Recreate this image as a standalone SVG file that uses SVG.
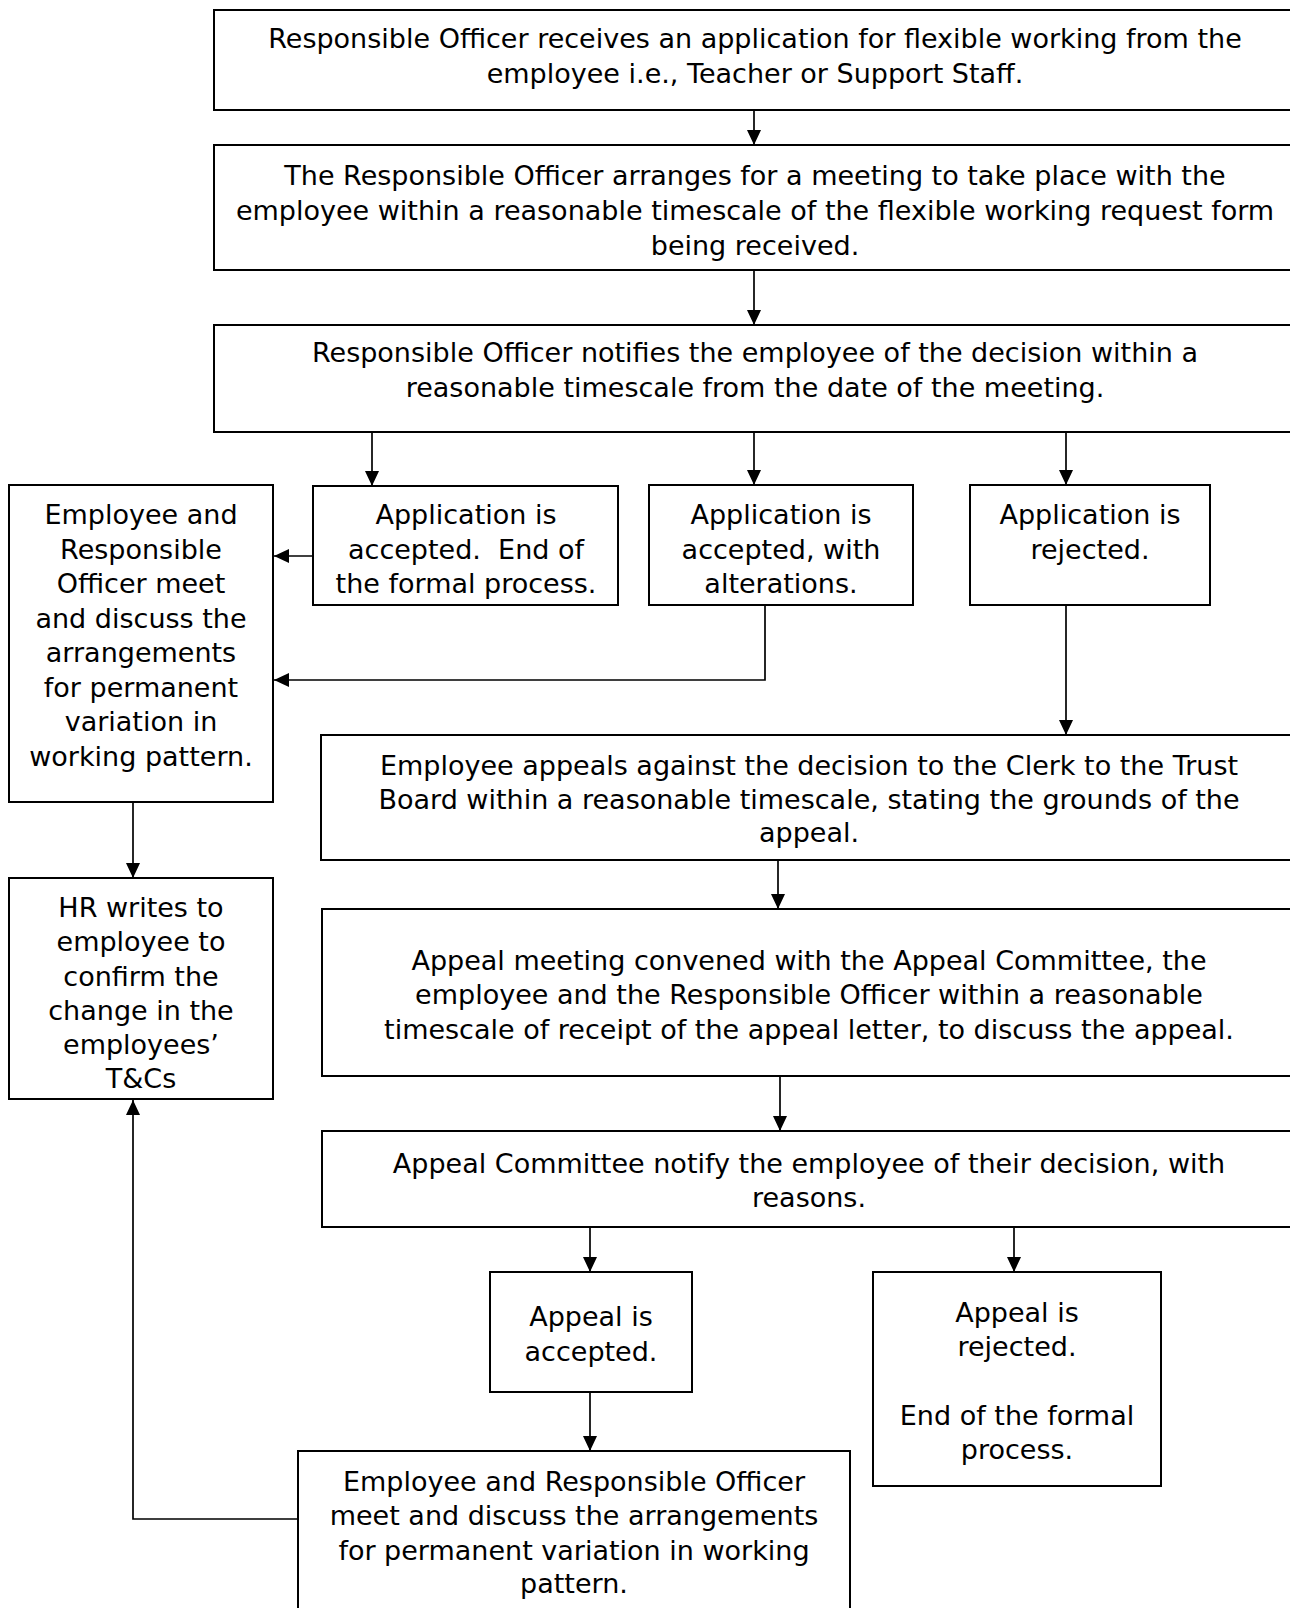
<svg xmlns="http://www.w3.org/2000/svg" width="1290" height="1608" viewBox="0 0 1290 1608">
<style>
.box{fill:#fff;stroke:#000;stroke-width:2}
.t{font-family:"DejaVu Sans","Liberation Sans",sans-serif;font-size:27px;fill:#000;text-anchor:middle}
.c{fill:none;stroke:#000;stroke-width:1.7}
</style>
<defs>
<marker id="ah" viewBox="0 0 15 14" refX="15" refY="7" markerWidth="15" markerHeight="14" markerUnits="userSpaceOnUse" orient="auto">
<path d="M0,0 L15,7 L0,14 Z" fill="#000"/>
</marker>
</defs>
<rect width="1290" height="1608" fill="#fff"/>
<g id="connectors">
<line class="c" x1="754" y1="110" x2="754" y2="145" marker-end="url(#ah)"/>
<line class="c" x1="754" y1="270" x2="754" y2="325" marker-end="url(#ah)"/>
<line class="c" x1="372" y1="432" x2="372" y2="486" marker-end="url(#ah)"/>
<line class="c" x1="754" y1="432" x2="754" y2="485" marker-end="url(#ah)"/>
<line class="c" x1="1066" y1="432" x2="1066" y2="485" marker-end="url(#ah)"/>
<line class="c" x1="313" y1="556" x2="274" y2="556" marker-end="url(#ah)"/>
<polyline class="c" points="765,605 765,680 274,680" marker-end="url(#ah)"/>
<line class="c" x1="1066" y1="605" x2="1066" y2="735" marker-end="url(#ah)"/>
<line class="c" x1="133" y1="802" x2="133" y2="878" marker-end="url(#ah)"/>
<line class="c" x1="778" y1="860" x2="778" y2="909" marker-end="url(#ah)"/>
<line class="c" x1="780" y1="1076" x2="780" y2="1131" marker-end="url(#ah)"/>
<line class="c" x1="590" y1="1227" x2="590" y2="1272" marker-end="url(#ah)"/>
<line class="c" x1="1014" y1="1227" x2="1014" y2="1272" marker-end="url(#ah)"/>
<line class="c" x1="590" y1="1392" x2="590" y2="1451" marker-end="url(#ah)"/>
<polyline class="c" points="298,1519 133,1519 133,1100" marker-end="url(#ah)"/>
</g>
<g id="n1">
<rect class="box" x="214" y="10" width="1090" height="100"/>
<text class="t" x="755" y="47.5">Responsible Officer receives an application for flexible working from the</text>
<text class="t" x="755" y="82.5">employee i.e., Teacher or Support Staff.</text>
</g>
<g id="n2">
<rect class="box" x="214" y="145" width="1090" height="125"/>
<text class="t" x="755" y="184.5">The Responsible Officer arranges for a meeting to take place with the</text>
<text class="t" x="755" y="219.5">employee within a reasonable timescale of the flexible working request form</text>
<text class="t" x="755" y="254.5">being received.</text>
</g>
<g id="n3">
<rect class="box" x="214" y="325" width="1090" height="107"/>
<text class="t" x="755" y="362">Responsible Officer notifies the employee of the decision within a</text>
<text class="t" x="755" y="397">reasonable timescale from the date of the meeting.</text>
</g>
<g id="n4">
<rect class="box" x="9" y="485" width="264" height="317"/>
<text class="t" x="141" y="524">Employee and</text>
<text class="t" x="141" y="558.5">Responsible</text>
<text class="t" x="141" y="593">Officer meet</text>
<text class="t" x="141" y="627.5">and discuss the</text>
<text class="t" x="141" y="662">arrangements</text>
<text class="t" x="141" y="696.5">for permanent</text>
<text class="t" x="141" y="731">variation in</text>
<text class="t" x="141" y="765.5">working pattern.</text>
</g>
<g id="n5">
<rect class="box" x="313" y="486" width="305" height="119"/>
<text class="t" x="466" y="524">Application is</text>
<text class="t" x="466" y="558.5">accepted.&#160; End of</text>
<text class="t" x="466" y="593">the formal process.</text>
</g>
<g id="n6">
<rect class="box" x="649" y="485" width="264" height="120"/>
<text class="t" x="781" y="524">Application is</text>
<text class="t" x="781" y="558.5">accepted, with</text>
<text class="t" x="781" y="593">alterations.</text>
</g>
<g id="n7">
<rect class="box" x="970" y="485" width="240" height="120"/>
<text class="t" x="1090" y="524">Application is</text>
<text class="t" x="1090" y="558.5">rejected.</text>
</g>
<g id="n8">
<rect class="box" x="321" y="735" width="980" height="125"/>
<text class="t" x="809" y="775">Employee appeals against the decision to the Clerk to the Trust</text>
<text class="t" x="809" y="809">Board within a reasonable timescale, stating the grounds of the</text>
<text class="t" x="809" y="842">appeal.</text>
</g>
<g id="n9">
<rect class="box" x="322" y="909" width="980" height="167"/>
<text class="t" x="809" y="970">Appeal meeting convened with the Appeal Committee, the</text>
<text class="t" x="809" y="1004">employee and the Responsible Officer within a reasonable</text>
<text class="t" x="809" y="1039">timescale of receipt of the appeal letter, to discuss the appeal.</text>
</g>
<g id="n10">
<rect class="box" x="322" y="1131" width="980" height="96"/>
<text class="t" x="809" y="1172.5">Appeal Committee notify the employee of their decision, with</text>
<text class="t" x="809" y="1207">reasons.</text>
</g>
<g id="n11">
<rect class="box" x="490" y="1272" width="202" height="120"/>
<text class="t" x="591" y="1326">Appeal is</text>
<text class="t" x="591" y="1360.5">accepted.</text>
</g>
<g id="n12">
<rect class="box" x="873" y="1272" width="288" height="214"/>
<text class="t" x="1017" y="1322">Appeal is</text>
<text class="t" x="1017" y="1356">rejected.</text>
<text class="t" x="1017" y="1425">End of the formal</text>
<text class="t" x="1017" y="1459">process.</text>
</g>
<g id="n13">
<rect class="box" x="9" y="878" width="264" height="221"/>
<text class="t" x="141" y="917">HR writes to</text>
<text class="t" x="141" y="951">employee to</text>
<text class="t" x="141" y="985.5">confirm the</text>
<text class="t" x="141" y="1020">change in the</text>
<text class="t" x="141" y="1054">employees’</text>
<text class="t" x="141" y="1088">T&amp;Cs</text>
</g>
<g id="n14">
<rect class="box" x="298" y="1451" width="552" height="170"/>
<text class="t" x="574" y="1490.5">Employee and Responsible Officer</text>
<text class="t" x="574" y="1525">meet and discuss the arrangements</text>
<text class="t" x="574" y="1559.5">for permanent variation in working</text>
<text class="t" x="574" y="1593">pattern.</text>
</g>
</svg>
